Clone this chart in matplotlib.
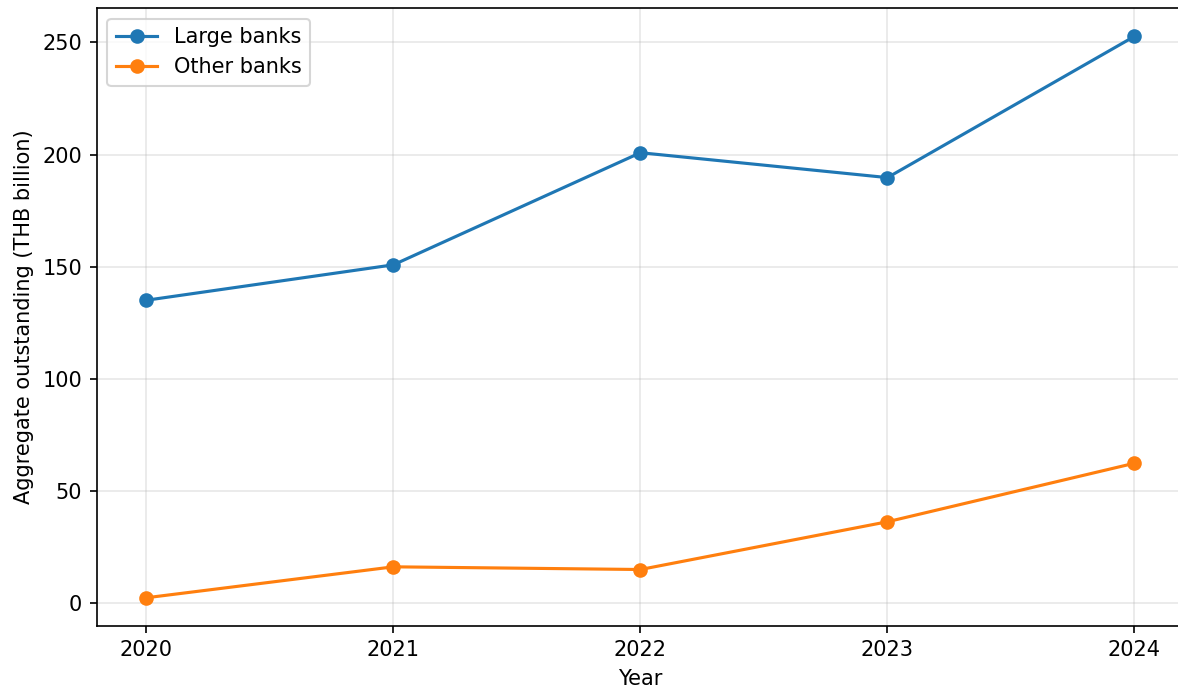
import matplotlib
matplotlib.use("Agg")
from matplotlib import pyplot as plt

years = [2020, 2021, 2022, 2023, 2024]
large_banks = [135.0, 150.8, 200.8, 189.7, 252.7]
other_banks = [2.3, 16.1, 14.9, 36.2, 62.3]

dpi = 150
fig, ax = plt.subplots(figsize=(1178 / dpi, 690 / dpi), dpi=dpi)

ax.plot(years, large_banks, marker='o', label='Large banks')
ax.plot(years, other_banks, marker='o', label='Other banks')

ax.set_xticks(years)
ax.set_xlabel('Year')
ax.set_ylabel('Aggregate outstanding (THB billion)')
ax.grid(True, alpha=0.3)
ax.legend(loc='upper left')

fig.subplots_adjust(left=0.0823, right=1.005, top=0.988, bottom=0.093)
fig.savefig('out.png', dpi=dpi)
